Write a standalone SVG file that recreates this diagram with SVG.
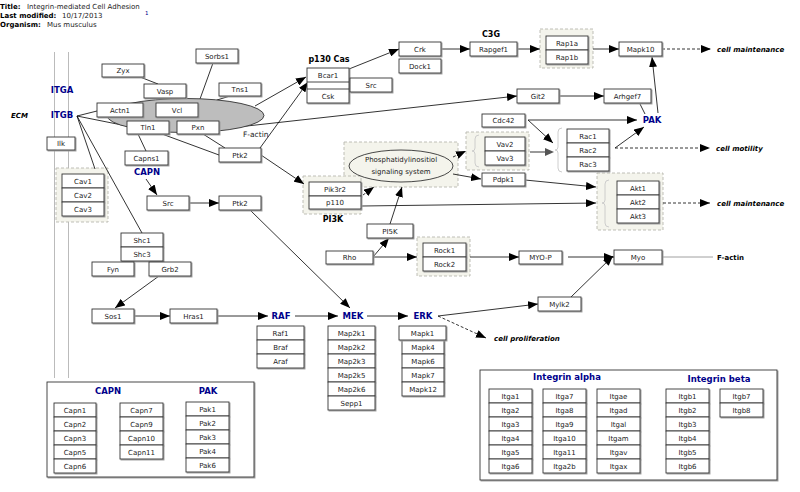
<svg xmlns="http://www.w3.org/2000/svg" width="800" height="492" viewBox="0 0 800 492">
<defs>
<filter id="sh" x="-10%" y="-10%" width="130%" height="140%"><feDropShadow dx="1" dy="1" stdDeviation="0.2" flood-color="#999"/></filter>
<marker id="ar" markerUnits="userSpaceOnUse" markerWidth="10" markerHeight="8" refX="10" refY="4" orient="auto"><path d="M0,0 L10,4 L0,8 z" fill="#000"/></marker>
<marker id="ag" markerUnits="userSpaceOnUse" markerWidth="10" markerHeight="8" refX="10" refY="4" orient="auto"><path d="M0,0 L10,4 L0,8 z" fill="#555"/></marker>
<style>
text{font-family:"DejaVu Sans","Liberation Sans",sans-serif}
.n rect{fill:#fff;stroke:#333;stroke-width:0.9;filter:url(#sh)}
.n text{font-size:7px;text-anchor:middle;fill:#222}
.bg{fill:#f4f4ec;stroke:#b8b8b0;stroke-width:0.9;stroke-dasharray:3,2}
.br{fill:none;stroke:#c8c8c8;stroke-width:0.9}
.lb{font-size:8.5px;font-weight:bold;fill:#00008b;text-anchor:middle}
.bk{font-size:8px;font-weight:bold;fill:#000;text-anchor:middle}
.ph{font-size:7px;font-weight:bold;font-style:italic;fill:#000}
.hd{font-size:7px;fill:#222}
.hb{font-size:7px;font-weight:bold;fill:#000}
.c line,.c path{stroke:#000;stroke-width:0.8;fill:none}
.c .a{marker-end:url(#ar)}
.c .d{stroke-dasharray:3,2}
.c .g{stroke:#777;stroke-width:1.5}
.mem{stroke:#bbb;stroke-width:1}
.lg{fill:#fff;stroke:#333;stroke-width:0.9;filter:url(#sh)}
</style>
</defs>

<g id="header">
<text class="hb" x="0" y="9">Title:</text><text class="hd" x="27" y="9">Integrin-mediated Cell Adhesion</text>
<text x="145" y="15" style="font-size:5.5px;fill:#00008b">1</text>
<text class="hb" x="0" y="18">Last modified:</text><text class="hd" x="62" y="18">10/17/2013</text>
<text class="hb" x="0" y="27">Organism:</text><text class="hd" x="47" y="27">Mus musculus</text>
</g>

<g id="membrane">
<line class="mem" x1="54.5" y1="52" x2="54.5" y2="378"/>
<line class="mem" x1="68.5" y1="52" x2="68.5" y2="378"/>
</g>

<g id="groups">
<rect class="bg" x="56" y="168" width="52" height="54"/>
<rect class="bg" x="540" y="29" width="53" height="39"/>
<rect class="bg" x="466" y="132" width="63" height="38"/>
<rect class="bg" x="597" y="173" width="66" height="57"/>
<rect class="bg" x="344" y="142" width="114" height="45"/>
<rect class="bg" x="303" y="176" width="58" height="38"/>
<rect class="bg" x="417" y="237" width="53" height="39"/>
<path class="br" d="M479,135 Q475,135 475,139 L475,148 Q475,151 472,151 Q475,151 475,154 L475,163 Q475,167 479,167"/>
<path class="br" d="M562,128 Q558,128 558,132 L558,147 Q558,150 555,150 Q558,150 558,153 L558,168 Q558,172 562,172"/>
<path class="br" d="M609,180 Q605,180 605,184 L605,200 Q605,203 602,203 Q605,203 605,206 L605,223 Q605,227 609,227"/>
</g>

<g id="connectors" class="c">
<line x1="77" y1="116" x2="97" y2="111"/>
<line x1="77" y1="116" x2="127" y2="126"/>
<line x1="77" y1="116" x2="95" y2="169"/>
<line x1="77" y1="116" x2="142" y2="233"/>
<line x1="108" y1="117" x2="127" y2="125"/>
<line x1="140" y1="77" x2="158" y2="84"/>
<line x1="213" y1="63" x2="200" y2="99"/>
<line x1="230" y1="96" x2="217" y2="100"/>
<line x1="138" y1="134" x2="146" y2="151"/>
<line x1="162" y1="134" x2="219" y2="155"/>
<line x1="203" y1="134" x2="225" y2="148"/>
<line class="a" x1="255" y1="106" x2="306" y2="77"/>
<line class="a" x1="260" y1="148" x2="308" y2="82"/>
<line class="a" x1="220" y1="129" x2="517" y2="96"/>
<line class="a" x1="261" y1="155" x2="304" y2="184"/>
<line class="a" x1="349" y1="69" x2="399" y2="49"/>
<line class="a" x1="441" y1="49" x2="470" y2="49"/>
<line class="a" x1="517" y1="49" x2="540" y2="49"/>
<line class="a" x1="593" y1="49" x2="619" y2="49"/>
<line class="a d" x1="662" y1="49" x2="711" y2="49"/>
<line class="a" x1="559" y1="96" x2="604" y2="96"/>
<line x1="640" y1="104" x2="645" y2="114"/>
<line class="a" x1="658" y1="113" x2="652" y2="57"/>
<line class="a" x1="528" y1="120" x2="637" y2="120"/>
<line class="a" x1="528" y1="120" x2="553" y2="143"/>
<line class="g" x1="530" y1="152" x2="545" y2="152"/>
<path d="M545,148 L554,152 L545,156 z" style="fill:#555;stroke:none"/>
<line class="a" x1="615" y1="148" x2="644" y2="127"/>
<line class="a d" x1="615" y1="148" x2="710" y2="148"/>
<line class="a d" x1="453" y1="157" x2="466" y2="151"/>
<line class="a" x1="453" y1="174" x2="481" y2="179"/>
<line class="a" x1="525" y1="180" x2="596" y2="187"/>
<line class="a" x1="362" y1="206" x2="596" y2="203"/>
<line class="a d" x1="663" y1="203" x2="710" y2="203"/>
<line class="a d" x1="363" y1="195" x2="374" y2="187"/>
<line class="a" x1="390" y1="224" x2="402" y2="187"/>
<line class="a" x1="373" y1="257" x2="389" y2="238"/>
<line class="a" x1="373" y1="257" x2="417" y2="257"/>
<line class="a" x1="470" y1="257" x2="519" y2="257"/>
<line class="a" x1="568" y1="257" x2="614" y2="257"/>
<line style="stroke:#888" x1="662" y1="257" x2="713" y2="257"/>
<line class="a" x1="571" y1="297" x2="613" y2="256"/>
<line class="a" x1="438" y1="316" x2="538" y2="304"/>
<line class="a d" x1="438" y1="316" x2="486" y2="338"/>
<line class="a" x1="146" y1="179" x2="157" y2="195"/>
<line class="a" x1="188" y1="203" x2="219" y2="203"/>
<line class="a" x1="250" y1="210" x2="350" y2="308"/>
<line class="a" x1="159" y1="276" x2="115" y2="308"/>
<line class="a" x1="134" y1="316" x2="170" y2="316"/>
<line class="a" x1="217" y1="316" x2="268" y2="316"/>
<line class="a" x1="295" y1="316" x2="338" y2="316"/>
<line class="a" x1="367" y1="316" x2="408" y2="316"/>
</g>

<g id="factin-ellipse"><ellipse cx="185.5" cy="115.5" rx="78.5" ry="17" fill="#bdbdbd" stroke="#333" stroke-width="0.9"/><text x="243" y="137" style="font-size:7.5px;fill:#222">F-actin</text></g>
<g id="phosph"><ellipse cx="401" cy="166" rx="52" ry="16" fill="#f4f4ec" stroke="#333" stroke-width="0.9"/><text x="401" y="162" style="font-size:7px;text-anchor:middle;fill:#222">Phosphatidylinositiol</text><text x="401" y="174" style="font-size:7px;text-anchor:middle;fill:#222">signaling system</text></g>

<g id="labels">
<text class="lb" x="62" y="93">ITGA</text>
<text class="lb" x="62" y="118">ITGB</text>
<text class="ph" x="11" y="118">ECM</text>
<text class="lb" x="147" y="175">CAPN</text>
<text class="lb" x="652" y="123">PAK</text>
<text class="lb" x="281" y="319">RAF</text>
<text class="lb" x="353" y="319">MEK</text>
<text class="lb" x="423" y="319">ERK</text>
<text class="bk" x="329" y="62">p130 Cas</text>
<text class="bk" x="491" y="37">C3G</text>
<text class="bk" x="333" y="222">PI3K</text>
<text class="hb" x="717" y="260">F-actin</text>
<text class="ph" x="717" y="52">cell maintenance</text>
<text class="ph" x="716" y="151">cell motility</text>
<text class="ph" x="717" y="206">cell maintenance</text>
<text class="ph" x="494" y="341">cell proliferation</text>
</g>

<g id="Zyx" class="n"><rect x="102" y="64" width="42" height="13"/><text x="123" y="73">Zyx</text></g>
<g id="Vasp" class="n"><rect x="144" y="84" width="42" height="14"/><text x="165" y="93.5">Vasp</text></g>
<g id="Sorbs1" class="n"><rect x="196" y="49" width="42" height="14"/><text x="217" y="58.5">Sorbs1</text></g>
<g id="Tns1" class="n"><rect x="219" y="83" width="42" height="13"/><text x="240" y="92">Tns1</text></g>
<g id="Actn1" class="n"><rect x="97" y="103" width="46" height="14"/><text x="120" y="112.5">Actn1</text></g>
<g id="Vcl" class="n"><rect x="156" y="103" width="42" height="14"/><text x="177" y="112.5">Vcl</text></g>
<g id="Tln1" class="n"><rect x="127" y="121" width="42" height="13"/><text x="148" y="130">Tln1</text></g>
<g id="Pxn" class="n"><rect x="177" y="121" width="42" height="13"/><text x="198" y="130">Pxn</text></g>
<g id="Ilk" class="n"><rect x="47" y="137" width="28" height="13"/><text x="61" y="146">Ilk</text></g>
<g id="Capns1" class="n"><rect x="125" y="151" width="43" height="14"/><text x="146.5" y="160.5">Capns1</text></g>
<g id="Ptk2a" class="n"><rect x="219" y="148" width="42" height="14"/><text x="240" y="157.5">Ptk2</text></g>
<g id="Cav" class="n"><rect x="62" y="174" width="42" height="14"/><text x="83" y="183.5">Cav1</text><rect x="62" y="188" width="42" height="14"/><text x="83" y="197.5">Cav2</text><rect x="62" y="202" width="42" height="14"/><text x="83" y="211.5">Cav3</text></g>
<g id="Src2" class="n"><rect x="147" y="196" width="42" height="14"/><text x="168" y="205.5">Src</text></g>
<g id="Ptk2b" class="n"><rect x="219" y="196" width="42" height="14"/><text x="240" y="205.5">Ptk2</text></g>
<g id="Shc" class="n"><rect x="121" y="233" width="42" height="14"/><text x="142" y="242.5">Shc1</text><rect x="121" y="247" width="42" height="14"/><text x="142" y="256.5">Shc3</text></g>
<g id="Fyn" class="n"><rect x="92" y="262" width="42" height="14"/><text x="113" y="271.5">Fyn</text></g>
<g id="Grb2" class="n"><rect x="149" y="262" width="42" height="14"/><text x="170" y="271.5">Grb2</text></g>
<g id="Sos1" class="n"><rect x="92" y="309" width="42" height="14"/><text x="113" y="318.5">Sos1</text></g>
<g id="Hras1" class="n"><rect x="170" y="309" width="47" height="14"/><text x="193.5" y="318.5">Hras1</text></g>
<g id="RAFs" class="n"><rect x="257" y="326" width="47" height="14"/><text x="280.5" y="335.5">Raf1</text><rect x="257" y="340" width="47" height="14"/><text x="280.5" y="349.5">Braf</text><rect x="257" y="354" width="47" height="14"/><text x="280.5" y="363.5">Araf</text></g>
<g id="MEKs" class="n"><rect x="328" y="326" width="47" height="14"/><text x="351.5" y="335.5">Map2k1</text><rect x="328" y="340" width="47" height="14"/><text x="351.5" y="349.5">Map2k2</text><rect x="328" y="354" width="47" height="14"/><text x="351.5" y="363.5">Map2k3</text><rect x="328" y="368" width="47" height="14"/><text x="351.5" y="377.5">Map2k5</text><rect x="328" y="382" width="47" height="14"/><text x="351.5" y="391.5">Map2k6</text><rect x="328" y="396" width="47" height="14"/><text x="351.5" y="405.5">Sepp1</text></g>
<g id="ERKs" class="n"><rect x="402" y="340" width="42" height="14"/><text x="423" y="349.5">Mapk4</text><rect x="402" y="354" width="42" height="14"/><text x="423" y="363.5">Mapk6</text><rect x="402" y="368" width="42" height="14"/><text x="423" y="377.5">Mapk7</text><rect x="402" y="382" width="42" height="14"/><text x="423" y="391.5">Mapk12</text><rect x="399" y="326" width="47" height="14"/><text x="422.5" y="335.5">Mapk1</text></g>
<g id="p130Cas" class="n"><rect x="307" y="68" width="42" height="35"/><line x1="307" y1="82" x2="349" y2="82" stroke="#333" stroke-width="0.9"/><line x1="307" y1="89" x2="349" y2="89" stroke="#333" stroke-width="0.9"/><text x="328" y="77.5">Bcar1</text><text x="328" y="98.5">Csk</text></g>
<g id="Src" class="n"><rect x="350" y="78" width="42" height="14"/><text x="371" y="87.5">Src</text></g>
<g id="Crk" class="n"><rect x="399" y="42" width="42" height="14"/><text x="420" y="51.5">Crk</text></g>
<g id="Dock1" class="n"><rect x="399" y="59" width="42" height="14"/><text x="420" y="68.5">Dock1</text></g>
<g id="Rapgef1" class="n"><rect x="470" y="42" width="47" height="14"/><text x="493.5" y="51.5">Rapgef1</text></g>
<g id="Rap" class="n"><rect x="546" y="36" width="42" height="14"/><text x="567" y="45.5">Rap1a</text><rect x="546" y="50" width="42" height="14"/><text x="567" y="59.5">Rap1b</text></g>
<g id="Mapk10" class="n"><rect x="619" y="42" width="43" height="14"/><text x="640.5" y="51.5">Mapk10</text></g>
<g id="Git2" class="n"><rect x="517" y="89" width="42" height="14"/><text x="538" y="98.5">Git2</text></g>
<g id="Arhgef7" class="n"><rect x="604" y="89" width="47" height="14"/><text x="627.5" y="98.5">Arhgef7</text></g>
<g id="Cdc42" class="n"><rect x="482" y="114" width="43" height="13"/><text x="503.5" y="123">Cdc42</text></g>
<g id="Vav" class="n"><rect x="485" y="137" width="40" height="14"/><text x="505" y="146.5">Vav2</text><rect x="485" y="151" width="40" height="14"/><text x="505" y="160.5">Vav3</text></g>
<g id="Rac" class="n"><rect x="567" y="129" width="42" height="14"/><text x="588" y="138.5">Rac1</text><rect x="567" y="143" width="42" height="14"/><text x="588" y="152.5">Rac2</text><rect x="567" y="157" width="42" height="14"/><text x="588" y="166.5">Rac3</text></g>
<g id="Akt" class="n"><rect x="617" y="181" width="42" height="14"/><text x="638" y="190.5">Akt1</text><rect x="617" y="195" width="42" height="14"/><text x="638" y="204.5">Akt2</text><rect x="617" y="209" width="42" height="14"/><text x="638" y="218.5">Akt3</text></g>
<g id="Pdpk1" class="n"><rect x="482" y="173" width="43" height="13"/><text x="503.5" y="182">Pdpk1</text></g>
<g id="PI3K" class="n"><rect x="309" y="182" width="52" height="14"/><text x="335" y="191.5">Pik3r2</text><rect x="309" y="196" width="52" height="13"/><text x="335" y="205">p110</text></g>
<g id="PI5K" class="n"><rect x="367" y="224" width="46" height="14"/><text x="390" y="233.5">PI5K</text></g>
<g id="Rho" class="n"><rect x="326" y="251" width="47" height="13"/><text x="349.5" y="260">Rho</text></g>
<g id="Rock" class="n"><rect x="423" y="243" width="43" height="14"/><text x="444.5" y="252.5">Rock1</text><rect x="423" y="257" width="43" height="14"/><text x="444.5" y="266.5">Rock2</text></g>
<g id="MYO-P" class="n"><rect x="519" y="251" width="43" height="13"/><text x="540.5" y="260">MYO-P</text></g>
<g id="Myo" class="n"><rect x="614" y="250" width="48" height="14"/><text x="638" y="259.5">Myo</text></g>
<g id="Mylk2" class="n"><rect x="538" y="297" width="43" height="14"/><text x="559.5" y="306.5">Mylk2</text></g>

<g id="legend-capn-pak">
<rect class="lg" x="47" y="382" width="207" height="95"/>
<text class="lb" x="108" y="394">CAPN</text><text class="lb" x="208" y="394">PAK</text>
<g class="n">
<rect x="54" y="403" width="42" height="14"/><text x="75" y="412.5">Capn1</text>
<rect x="54" y="417" width="42" height="14"/><text x="75" y="426.5">Capn2</text>
<rect x="54" y="431" width="42" height="14"/><text x="75" y="440.5">Capn3</text>
<rect x="54" y="445" width="42" height="14"/><text x="75" y="454.5">Capn5</text>
<rect x="54" y="459" width="42" height="14"/><text x="75" y="468.5">Capn6</text>
<rect x="120" y="403" width="43" height="14"/><text x="141.5" y="412.5">Capn7</text>
<rect x="120" y="417" width="43" height="14"/><text x="141.5" y="426.5">Capn9</text>
<rect x="120" y="431" width="43" height="14"/><text x="141.5" y="440.5">Capn10</text>
<rect x="120" y="445" width="43" height="14"/><text x="141.5" y="454.5">Capn11</text>
<rect x="186" y="402" width="43" height="14"/><text x="207.5" y="411.5">Pak1</text>
<rect x="186" y="416" width="43" height="14"/><text x="207.5" y="425.5">Pak2</text>
<rect x="186" y="430" width="43" height="14"/><text x="207.5" y="439.5">Pak3</text>
<rect x="186" y="444" width="43" height="14"/><text x="207.5" y="453.5">Pak4</text>
<rect x="186" y="458" width="43" height="14"/><text x="207.5" y="467.5">Pak6</text>
</g>
</g>

<g id="legend-integrins">
<rect class="lg" x="480" y="370" width="297" height="110"/>
<text class="lb" x="567" y="380">Integrin alpha</text><text class="lb" x="719" y="382">Integrin beta</text>
<g class="n">
<rect x="489" y="389" width="43" height="14"/><text x="510.5" y="398.5">Itga1</text>
<rect x="489" y="403" width="43" height="14"/><text x="510.5" y="412.5">Itga2</text>
<rect x="489" y="417" width="43" height="14"/><text x="510.5" y="426.5">Itga3</text>
<rect x="489" y="431" width="43" height="14"/><text x="510.5" y="440.5">Itga4</text>
<rect x="489" y="445" width="43" height="14"/><text x="510.5" y="454.5">Itga5</text>
<rect x="489" y="459" width="43" height="14"/><text x="510.5" y="468.5">Itga6</text>
<rect x="543" y="389" width="43" height="14"/><text x="564.5" y="398.5">Itga7</text>
<rect x="543" y="403" width="43" height="14"/><text x="564.5" y="412.5">Itga8</text>
<rect x="543" y="417" width="43" height="14"/><text x="564.5" y="426.5">Itga9</text>
<rect x="543" y="431" width="43" height="14"/><text x="564.5" y="440.5">Itga10</text>
<rect x="543" y="445" width="43" height="14"/><text x="564.5" y="454.5">Itga11</text>
<rect x="543" y="459" width="43" height="14"/><text x="564.5" y="468.5">Itga2b</text>
<rect x="597" y="389" width="43" height="14"/><text x="618.5" y="398.5">Itgae</text>
<rect x="597" y="403" width="43" height="14"/><text x="618.5" y="412.5">Itgad</text>
<rect x="597" y="417" width="43" height="14"/><text x="618.5" y="426.5">Itgal</text>
<rect x="597" y="431" width="43" height="14"/><text x="618.5" y="440.5">Itgam</text>
<rect x="597" y="445" width="43" height="14"/><text x="618.5" y="454.5">Itgav</text>
<rect x="597" y="459" width="43" height="14"/><text x="618.5" y="468.5">Itgax</text>
<rect x="666" y="389" width="43" height="14"/><text x="687.5" y="398.5">Itgb1</text>
<rect x="666" y="403" width="43" height="14"/><text x="687.5" y="412.5">Itgb2</text>
<rect x="666" y="417" width="43" height="14"/><text x="687.5" y="426.5">Itgb3</text>
<rect x="666" y="431" width="43" height="14"/><text x="687.5" y="440.5">Itgb4</text>
<rect x="666" y="445" width="43" height="14"/><text x="687.5" y="454.5">Itgb5</text>
<rect x="666" y="459" width="43" height="14"/><text x="687.5" y="468.5">Itgb6</text>
<rect x="720" y="389" width="43" height="14"/><text x="741.5" y="398.5">Itgb7</text>
<rect x="720" y="403" width="43" height="14"/><text x="741.5" y="412.5">Itgb8</text>
</g>
</g>
</svg>
